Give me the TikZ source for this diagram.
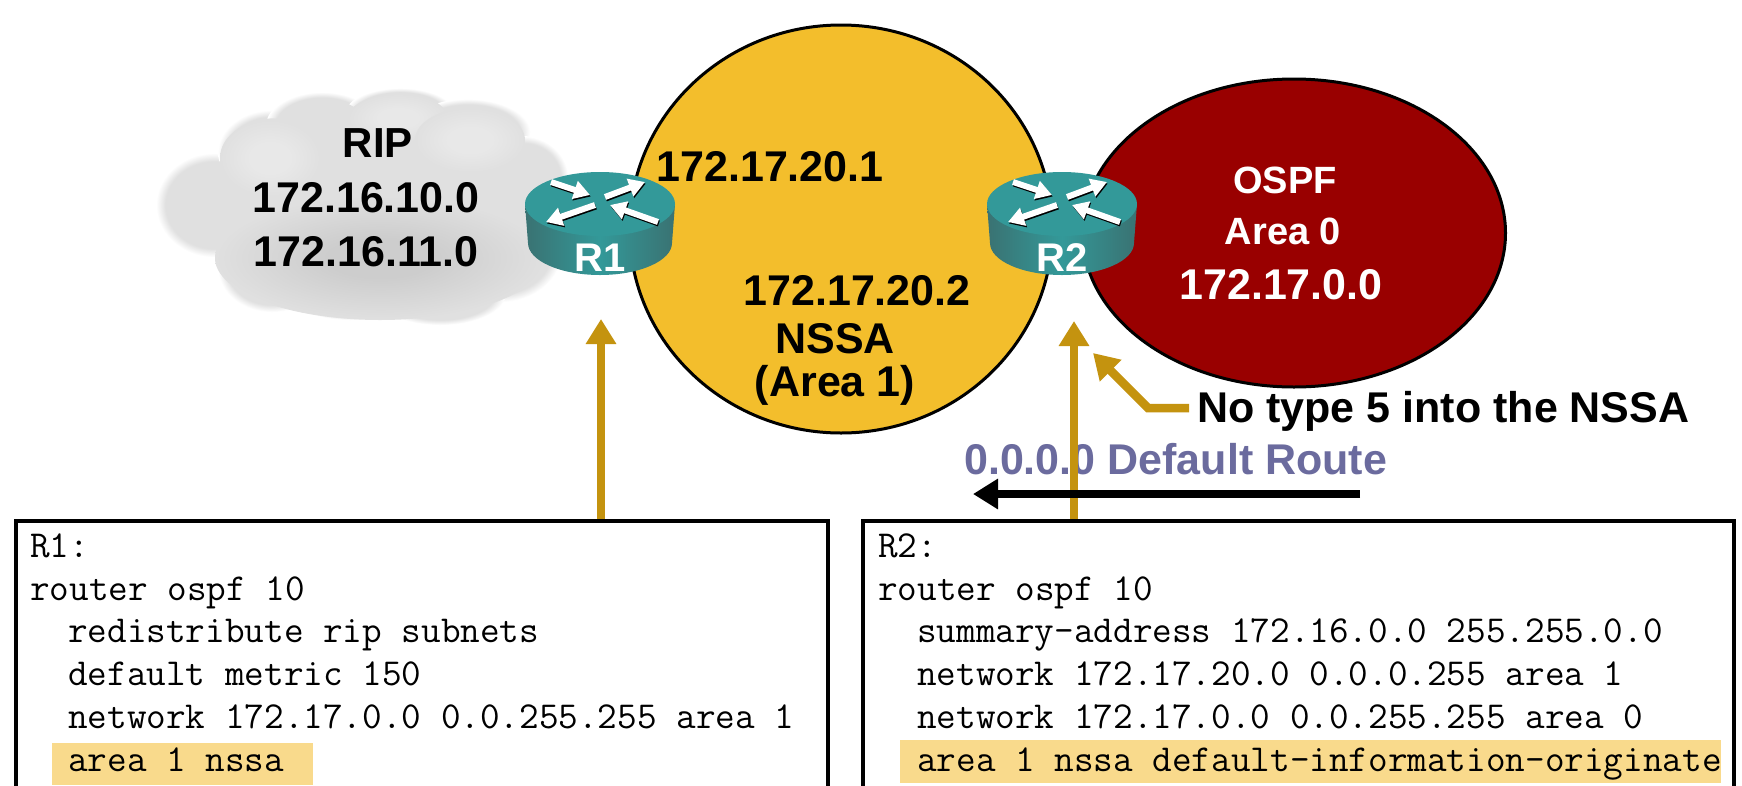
\documentclass[tikz,border=0pt]{standalone}
\usepackage{fontspec}
\setmainfont{Liberation Sans}
\usetikzlibrary{arrows.meta,shapes.geometric}
\definecolor{goldfill}{HTML}{F3BE2C}
\definecolor{darkred}{HTML}{990000}
\definecolor{arrowgold}{HTML}{C4930F}
\definecolor{teal1}{HTML}{339999}
\definecolor{teal2}{HTML}{3A7272}
\definecolor{hilite}{HTML}{F9DA8C}
\definecolor{routeblue}{HTML}{6B6B9E}
\definecolor{cloudbase}{HTML}{E0E0E0}
\definecolor{clouddark}{HTML}{CDCDCD}
\definecolor{cloudlight}{HTML}{E8E8E8}
\pgfdeclareradialshading{softlobe}{\pgfpoint{0bp}{0bp}}{color(0bp)=(cloudbase); color(21bp)=(cloudbase); color(25bp)=(white); color(50bp)=(white)}
\pgfdeclareradialshading{darkblob}{\pgfpoint{0bp}{0bp}}{color(0bp)=(clouddark); color(8bp)=(clouddark); color(25bp)=(cloudbase); color(50bp)=(cloudbase)}
\pgfdeclareradialshading{lightblob}{\pgfpoint{0bp}{0bp}}{color(0bp)=(cloudlight); color(10bp)=(cloudlight); color(25bp)=(cloudbase); color(50bp)=(cloudbase)}
\tikzset{
  x=1pt,y=-1pt,
  lbl/.style={font=\bfseries\fontsize{#1}{#1}\selectfont,inner sep=0pt,text=black},
  lbl/.default=43,
  wlbl/.style={lbl=#1,text=white},
  wlbl/.default=43,
  code/.style={font=\ttfamily\fontsize{38.1}{38.1}\selectfont,anchor=base west,inner sep=0pt,text=black},
  box/.style={draw=black,line width=3.5pt,fill=white,rectangle,inner sep=0pt,anchor=north west},
  hl/.style={fill=hilite,draw=none},
  area/.style={draw=black,line width=3pt,ellipse,inner sep=0pt,anchor=center},
  goldarrow/.style={draw=arrowgold,line width=8.5pt,-{Triangle[length=25pt,width=29pt,fill=arrowgold]}},
  goldelbow/.style={draw=arrowgold,line width=8.5pt,line join=miter,-{Triangle[length=25pt,width=29pt,fill=arrowgold]}},
  blackarrow/.style={draw=black,line width=8pt,-{Triangle[length=25pt,width=29pt]}},
  rarrow/.style={draw=white,line width=6pt,-{Triangle[length=16pt,width=18pt,fill=white]}},
  rshadow/.style={draw=black,line width=6pt,-{Triangle[length=16pt,width=18pt,fill=black]}},
}
\newcommand{\routerbody}[3]{%
  \begin{scope}[shift={(#1,204)}]
    \path[left color=teal2,right color=teal2,middle color=teal1]
      (-75,0) -- (-72,39) arc[x radius=72,y radius=32,start angle=180,end angle=0] -- (75,0) -- cycle;
    \fill[teal1] (0,0) ellipse[x radius=75,y radius=32];
    \begin{scope}[shift={(0.8,1.5)}]
      \draw[rshadow] (-49,-22) -- (-10,-9);
      \draw[rshadow] (5,-7) -- (45,-22);
      \draw[rshadow] (-5,1) -- (-54,18);
      \draw[rshadow] (58,18) -- (10,1);
    \end{scope}
    \draw[rarrow] (-49,-22) -- (-10,-9);
    \draw[rarrow] (5,-7) -- (45,-22);
    \draw[rarrow] (-5,1) -- (-54,18);
    \draw[rarrow] (58,18) -- (10,1);
  \end{scope}
  \node[wlbl=40] (#2) at (#1,258) {#3};
}
\begin{document}
\begin{tikzpicture}
\useasboundingbox (0,0) rectangle (1742,785);
\clip (0,0) rectangle (1742,785);
\fill[white] (0,0) rectangle (1742,785);
% cloud
\foreach \cx/\cy/\rx/\ry in {
  214/205/58/52, 272/152/54/42, 322/126/56/34, 400/113/54/25, 468/132/62/33,
  522/178/46/42, 500/250/62/52, 272/268/54/44, 350/288/66/32, 440/293/66/32}{
  \shade[shading=softlobe] (\cx,\cy) ellipse[x radius=\rx,y radius=\ry];
}
\foreach \cx/\cy/\rx/\ry in {
  214/205/58/52, 272/152/54/42, 322/126/56/34, 400/113/54/25, 468/132/62/33,
  522/178/46/42, 500/250/62/52, 272/268/54/44, 350/288/66/32, 440/293/66/32}{
  \fill[cloudbase] (\cx,\cy) ellipse[x radius=0.8*\rx,y radius=0.8*\ry];
}
\fill[cloudbase] (365,205) ellipse[x radius=165,y radius=92];
\shade[shading=darkblob] (380,258) ellipse[x radius=165,y radius=62];
\shade[shading=lightblob] (398,118) ellipse[x radius=50,y radius=24];
\shade[shading=lightblob] (270,158) ellipse[x radius=50,y radius=38];
\shade[shading=lightblob] (470,140) ellipse[x radius=55,y radius=32];
% area ellipses
\node[area,fill=goldfill,minimum width=423pt,minimum height=408pt] (nssa) at (841,229) {};
\node[area,fill=darkred,minimum width=423pt,minimum height=308pt] (ospf) at (1294,233) {};
% routers
\routerbody{600}{r1}{R1}
\routerbody{1062}{r2}{R2}
% labels
\node[lbl=42] (rip) at (378,143) {RIP};
\node[lbl] (n10) at (366,198) {172.16.10.0};
\node[lbl] (n11) at (366,252) {172.16.11.0};
\node[lbl] (a1) at (770,167) {172.17.20.1};
\node[lbl] (a2) at (857,291) {172.17.20.2};
\node[lbl] (nssal) at (835,339) {NSSA};
\node[lbl] (arealbl) at (835,385) {(Area 1)};
\node[wlbl=38] (ospfl) at (1285,180) {OSPF};
\node[wlbl=38] (area0) at (1283,231) {Area 0};
\node[wlbl] (net0) at (1281,285) {172.17.0.0};
\node[lbl,anchor=west] (notype) at (1197,411) {No type 5 into the NSSA};
\node[lbl,anchor=west,text=routeblue] (defroute) at (964,459) {0.0.0.0 Default Route};
% boxes
\node[box,minimum width=812pt,minimum height=320pt] (boxa) at (14,519) {};
\node[box,minimum width=871pt,minimum height=320pt] (boxb) at (861,519) {};
% highlights
\fill[hl] (52,743) rectangle (313,785);
\fill[hl] (900,740) rectangle (1721,783);
% code
\node[code] (a1c) at (30,557) {R1:};
\node[code] (a2c) at (30,600) {router ospf 10};
\node[code] (a3c) at (68,642) {redistribute rip subnets};
\node[code] (a4c) at (68,685) {default metric 150};
\node[code] (a5c) at (68,728) {network 172.17.0.0 0.0.255.255 area 1};
\node[code] (a6c) at (68,771) {area 1 nssa};
\node[code] (b1c) at (878,557) {R2:};
\node[code] (b2c) at (878,600) {router ospf 10};
\node[code] (b3c) at (917,642) {summary-address 172.16.0.0 255.255.0.0};
\node[code] (b4c) at (917,685) {network 172.17.20.0 0.0.0.255 area 1};
\node[code] (b5c) at (917,728) {network 172.17.0.0 0.0.255.255 area 0};
\node[code] (b6c) at (917,771) {area 1 nssa default-information-originate};
% arrows
\coordinate (r1tip) at (601,319);
\coordinate (r2tip) at (1074,321);
\coordinate (type5tip) at (1093,353);
\coordinate (bend) at (1148,408);
\coordinate (routetail) at (1360,494);
\coordinate (routetip) at (973,494);
\draw[goldarrow] (boxa.north -| r1tip) -- (r1tip);
\draw[goldarrow] (boxb.north -| r2tip) -- (r2tip);
\draw[goldelbow] (notype.west |- bend) ++(-8,0) -- (bend) -- (type5tip);
\draw[blackarrow] (routetail) -- (routetip);
\end{tikzpicture}
\end{document}
